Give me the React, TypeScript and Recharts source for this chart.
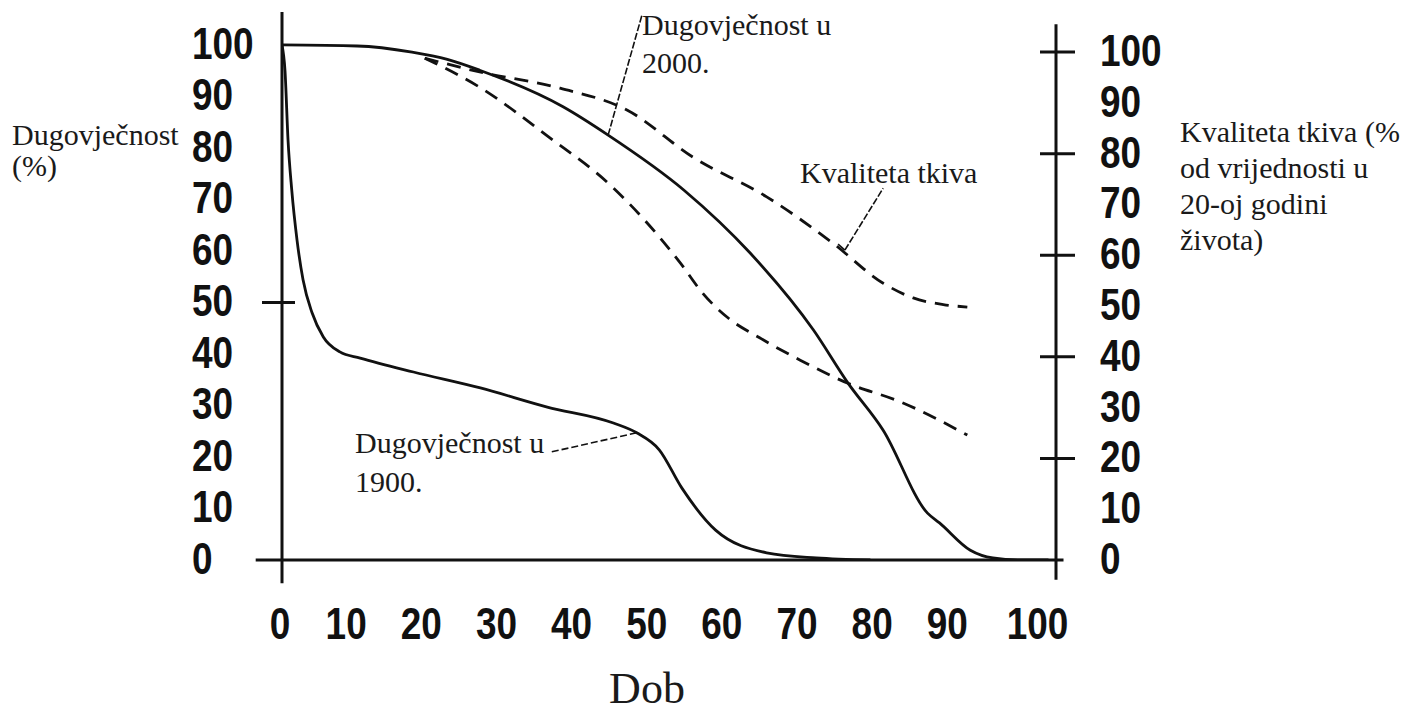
import React from "react";
import { LineChart, Line, XAxis, YAxis, ReferenceLine } from "recharts";

// age (years) on the x axis
const ages1900 = [0, 0.4, 0.8, 1.3, 2.0, 2.8, 4.0, 5.5, 7.7, 10.4, 17.5, 26.4, 35.3, 44.1, 47.2, 50.2, 53.2, 57.7, 64.5, 71.1, 78.3];
const surv1900 = [100, 95, 81.6, 71.8, 62.1, 54.4, 48.0, 43.3, 40.4, 39.2, 36.5, 33.4, 29.7, 26.6, 24.7, 21.4, 14.0, 5.8, 1.4, 0.4, 0];

const ages2000 = [0, 10, 17.3, 22, 26.3, 37.4, 43.4, 53.5, 62.3, 70.7, 75.3, 80.0, 85.9, 87.5, 91.6, 94.6, 98.3, 102];
const surv2000 = [100, 99.8, 98.6, 97.2, 95.1, 88.0, 82.5, 71.8, 59.6, 44.7, 34.4, 25.2, 9.1, 7.2, 1.9, 0.4, 0, 0];

const agesTissueA = [19.0, 26.3, 37.0, 45.9, 54.7, 64.5, 73.3, 80.0, 84.0, 88.0, 91.2];
const tissueA = [98.8, 96.1, 92.9, 88.6, 79.3, 71.5, 62.4, 54.5, 51.6, 50.3, 49.8];

const agesTissueB = [19.0, 26.3, 35.3, 44.0, 53.0, 56.0, 59.5, 63.5, 68.9, 75.3, 82.2, 91.2];
const tissueB = [98.8, 93.1, 83.5, 73.4, 58.5, 52.5, 47.5, 43.8, 39.4, 34.8, 31.2, 24.6];

const xTicks = [0, 10, 20, 30, 40, 50, 60, 70, 80, 90, 100];
const yTicks = [0, 10, 20, 30, 40, 50, 60, 70, 80, 90, 100];
const leftMarks = [50];
const rightMarks = [20, 40, 60, 80, 100];

const toRows = (xs: number[], ys: number[]) => xs.map((age, i) => ({ age, value: ys[i] }));

const data1900 = toRows(ages1900, surv1900);
const data2000 = toRows(ages2000, surv2000);
const dataTissueA = toRows(agesTissueA, tissueA);
const dataTissueB = toRows(agesTissueB, tissueB);

const INK = "#111";
const numFont = "'Liberation Sans', Arial, sans-serif";
const serif = "'Liberation Serif', 'DejaVu Serif', serif";

// condensed bold numerals, squeezed horizontally
const Num = ({ x, y, anchor, children }: any) => (
  <text
    transform={`translate(${x},${y}) scale(0.84,1)`}
    textAnchor={anchor}
    fontSize={44}
    fontWeight={700}
    fontFamily={numFont}
    fill={INK}
  >
    {children}
  </text>
);

const LeftTick = (props: any) => {
  const { x, y, payload } = props;
  const v = payload.value;
  return (
    <g>
      {leftMarks.includes(v) && (
        <line x1={x - 20} x2={x + 13} y1={y} y2={y} stroke={INK} strokeWidth={3} />
      )}
      <Num x={x - 90} y={y + 14} anchor="start">{v}</Num>
    </g>
  );
};

const RightTick = (props: any) => {
  const { x, y, payload } = props;
  const v = payload.value;
  return (
    <g>
      {rightMarks.includes(v) && (
        <line x1={x - 16} x2={x + 19} y1={y} y2={y} stroke={INK} strokeWidth={3} />
      )}
      <Num x={x + 44} y={y + 14} anchor="start">{v}</Num>
    </g>
  );
};

const BottomTick = (props: any) => {
  const { x, y, payload } = props;
  const v = payload.value;
  const nudge = v === 0 ? -2 : v === 100 ? 4 : -11;
  return <Num x={x + nudge} y={y + 79} anchor="middle">{v}</Num>;
};

export default function App() {
  return (
    <div style={{ position: "relative", width: 1400, height: 706 }}>
      <LineChart
        width={1400}
        height={706}
        margin={{ top: 4, right: 232, left: 174, bottom: 74 }}
        style={{ background: "#fff" }}
      >
        <XAxis
          type="number"
          dataKey="age"
          domain={[0, 103]}
          ticks={xTicks}
          allowDataOverflow
          axisLine={false}
          tickLine={false}
          tickSize={0}
          tickMargin={0}
          height={80}
          tick={<BottomTick />}
        />
        <YAxis
          yAxisId="left"
          type="number"
          domain={[0, 106.4]}
          ticks={yTicks}
          allowDataOverflow
          axisLine={false}
          tickLine={false}
          tickSize={0}
          tickMargin={0}
          width={100}
          tick={<LeftTick />}
        />
        <YAxis
          yAxisId="right"
          orientation="right"
          type="number"
          domain={[0, 107.9]}
          ticks={yTicks}
          allowDataOverflow
          axisLine={false}
          tickLine={false}
          tickSize={0}
          tickMargin={0}
          width={120}
          tick={<RightTick />}
        />

        {/* axis lines, drawn so they run past the plot corners like the original */}
        <ReferenceLine
          yAxisId="left"
          segment={[{ x: 0, y: -4.5 }, { x: 0, y: 106.4 }]}
          stroke={INK}
          strokeWidth={3}
          ifOverflow="visible"
        />
        <ReferenceLine
          yAxisId="left"
          segment={[{ x: -3.5, y: 0 }, { x: 104, y: 0 }]}
          stroke={INK}
          strokeWidth={3}
          ifOverflow="visible"
        />
        <ReferenceLine
          yAxisId="right"
          segment={[{ x: 103, y: -3.9 }, { x: 103, y: 105.5 }]}
          stroke={INK}
          strokeWidth={3}
          ifOverflow="visible"
        />

        <Line
          yAxisId="left"
          data={data1900}
          dataKey="value"
          type="monotone"
          stroke={INK}
          strokeWidth={2.8}
          dot={false}
          isAnimationActive={false}
        />
        <Line
          yAxisId="left"
          data={data2000}
          dataKey="value"
          type="monotone"
          stroke={INK}
          strokeWidth={2.8}
          dot={false}
          isAnimationActive={false}
        />
        <Line
          yAxisId="right"
          data={dataTissueA}
          dataKey="value"
          type="monotone"
          stroke={INK}
          strokeWidth={2.8}
          strokeDasharray="14 9"
          dot={false}
          isAnimationActive={false}
        />
        <Line
          yAxisId="right"
          data={dataTissueB}
          dataKey="value"
          type="monotone"
          stroke={INK}
          strokeWidth={2.8}
          strokeDasharray="14 9"
          dot={false}
          isAnimationActive={false}
        />

        {/* leader lines for the annotations */}
        <ReferenceLine
          yAxisId="left"
          segment={[{ x: 43.4, y: 82.5 }, { x: 47.9, y: 105.8 }]}
          stroke={INK}
          strokeWidth={1.6}
          strokeDasharray="7 2"
          ifOverflow="visible"
        />
        <ReferenceLine
          yAxisId="right"
          segment={[{ x: 74.0, y: 62.2 }, { x: 74.9, y: 61.0 }]}
          stroke={INK}
          strokeWidth={1.6}
          ifOverflow="visible"
        />
        <ReferenceLine
          yAxisId="right"
          segment={[{ x: 74.9, y: 61.0 }, { x: 80.0, y: 73.2 }]}
          stroke={INK}
          strokeWidth={1.6}
          strokeDasharray="7 2"
          ifOverflow="visible"
        />
        <ReferenceLine
          yAxisId="left"
          segment={[{ x: 47.2, y: 24.7 }, { x: 35.9, y: 21.0 }]}
          stroke={INK}
          strokeWidth={1.6}
          strokeDasharray="7 3"
          ifOverflow="visible"
        />
      </LineChart>

      <svg
        width={1400}
        height={706}
        style={{ position: "absolute", left: 0, top: 0, pointerEvents: "none" }}
      >
        <g fontFamily={serif} fontSize={30} fill="#1a1a1a">
          <text x={4} y={137}>Dugovječnost</text>
          <text x={4} y={168}>(%)</text>

          <text x={1172} y={134}>Kvaliteta tkiva (%</text>
          <text x={1172} y={170}>od vrijednosti u</text>
          <text x={1172} y={206}>20-oj godini</text>
          <text x={1172} y={242}>života)</text>

          <text x={634} y={27}>Dugovječnost u</text>
          <text x={634} y={65}>2000.</text>

          <text x={792} y={175}>Kvaliteta tkiva</text>

          <text x={347} y={445}>Dugovječnost u</text>
          <text x={347} y={484}>1900.</text>
        </g>
        <text x={639} y={695} textAnchor="middle" fontFamily={serif} fontSize={44} fill="#1a1a1a">
          Dob
        </text>
      </svg>
    </div>
  );
}
